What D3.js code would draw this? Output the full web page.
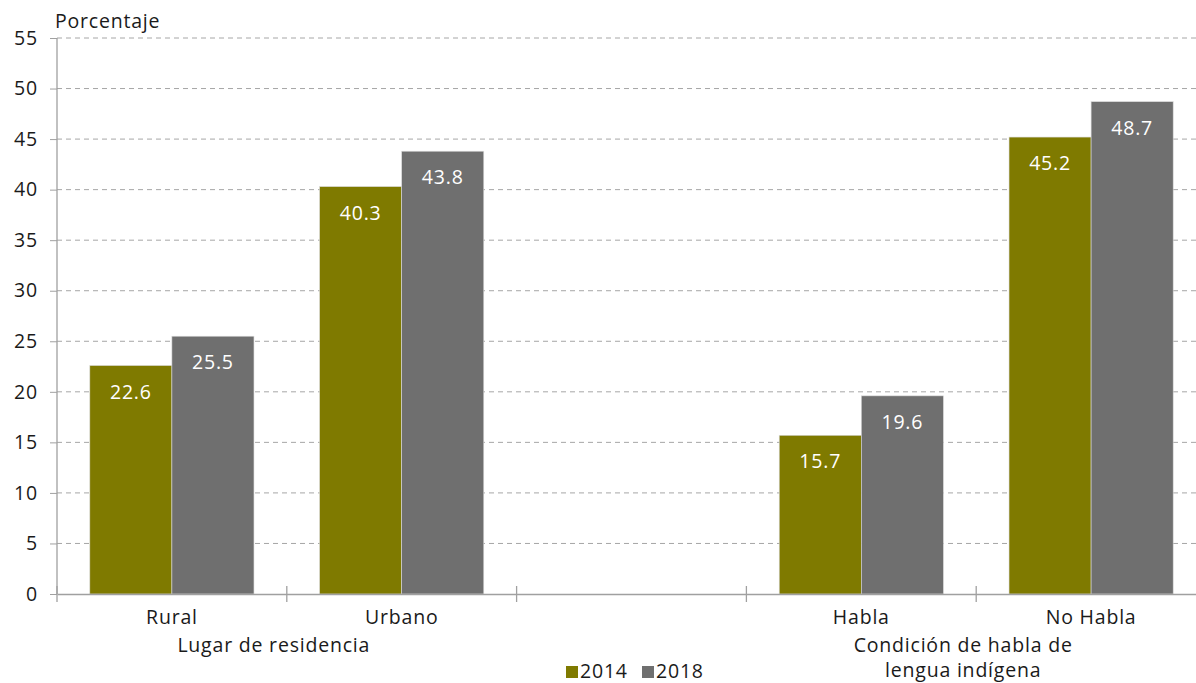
<!DOCTYPE html>
<html><head><meta charset="utf-8">
<script src="https://cdn.jsdelivr.net/npm/d3@7"></script>
<style>body{margin:0;background:#fff}svg{display:block}text{font-family:"Open Sans",sans-serif;letter-spacing:0.8px}</style>
</head><body>
<svg id="c" width="1196" height="683"></svg>
<script>
const categories = ["Rural","Urbano","","Habla","No Habla"];
const series = ["2014","2018"];
const values2014 = [22.6, 40.3, null, 15.7, 45.2];
const values2018 = [25.5, 43.8, null, 19.6, 48.7];
const yTicks = [0,5,10,15,20,25,30,35,40,45,50,55];
const groups = [
  {label:["Lugar de residencia"], from:0, to:1},
  {label:["Condición de habla de","lengua indígena"], from:3, to:4}
];
const colors = {"2014":"#7f7a00","2018":"#6f6f6f"};

(function(){
const svg = d3.select("#c");
const pL = 57, pR = 1206, pT = 38, pB = 594;
const fs = 19.5, fw = 400, tc = "#1a1a1a";
const x = d3.scaleBand().domain(categories.map((d,i)=>i)).range([pL,pR]).paddingInner(0).paddingOuter(0);
const xs = d3.scaleBand().domain(series).range([0,x.bandwidth()]).paddingInner(0).paddingOuter(0.4);
const y = d3.scaleLinear().domain([0,55]).range([pB,pT]);

// grid
svg.append("g").selectAll("line").data(yTicks.filter(d=>d>0)).join("line")
  .attr("x1",pL).attr("x2",pR).attr("y1",d=>y(d)).attr("y2",d=>y(d))
  .attr("stroke","#a6a6a6").attr("stroke-width",1).attr("stroke-dasharray","5,4");

// y axis
const yAxis = d3.axisLeft(y).tickValues(yTicks).tickSize(7).tickPadding(12);
const ga = svg.append("g").attr("transform",`translate(${pL},0)`).call(yAxis);
ga.select(".domain").attr("stroke","#a0a0a0").attr("stroke-width",1.3).attr("d",`M0,${pB}V${pT}`);
ga.selectAll(".tick line").attr("stroke","#a0a0a0");
ga.selectAll(".tick text").attr("font-size",fs).attr("fill",tc).attr("font-weight",fw);

// bars
const data = [];
categories.forEach((c,i)=>{
  if(values2014[i]!=null) data.push({i,s:"2014",v:values2014[i]});
  if(values2018[i]!=null) data.push({i,s:"2018",v:values2018[i]});
});
const bars = svg.append("g");
bars.selectAll("rect").data(data).join("rect")
  .attr("x",d=>x(d.i)+xs(d.s)).attr("width",xs.bandwidth())
  .attr("y",d=>y(d.v)).attr("height",d=>y(0)-y(d.v))
  .attr("fill",d=>colors[d.s]).attr("stroke","#d9d9d9").attr("stroke-width",0.6);
bars.selectAll("text").data(data).join("text")
  .attr("x",d=>x(d.i)+xs(d.s)+xs.bandwidth()/2).attr("y",d=>y(d.v)+33)
  .attr("text-anchor","middle").attr("fill","#fff").attr("font-size",fs).attr("font-weight",fw)
  .text(d=>d.v.toFixed(1));

// x axis
const xAxis = d3.axisBottom(x).tickSize(0).tickFormat(i=>categories[i]).tickPadding(16);
const gx = svg.append("g").attr("transform",`translate(0,${pB})`).call(xAxis);
gx.select(".domain").attr("stroke","#a0a0a0").attr("stroke-width",1.3);
gx.selectAll(".tick text").attr("font-size",fs).attr("fill",tc).attr("font-weight",fw);
const bounds = categories.map((d,i)=>x(i)).concat([pR]);
gx.append("g").selectAll("line").data(bounds).join("line")
  .attr("x1",d=>d).attr("x2",d=>d).attr("y1",-8).attr("y2",8)
  .attr("stroke","#a0a0a0").attr("stroke-width",1.3);

// group labels
groups.forEach(g=>{
  const cx = (x(g.from)+x(g.to)+x.bandwidth())/2 - 13;
  g.label.forEach((t,k)=>{
    svg.append("text").attr("x",cx).attr("y",652+k*25).attr("text-anchor","middle")
      .attr("font-size",fs).attr("fill",tc).attr("font-weight",fw).text(t);
  });
});

// y title
svg.append("text").attr("x",55).attr("y",28).attr("font-size",fs).attr("fill",tc).attr("font-weight",fw).text("Porcentaje");

// legend
const lg = svg.append("g");
const lx = [566, 642];
series.forEach((s,k)=>{
  lg.append("rect").attr("x",lx[k]).attr("y",666).attr("width",12).attr("height",12).attr("fill",colors[s]);
  lg.append("text").attr("x",lx[k]+14).attr("y",678).attr("font-size",fs).attr("fill",tc).attr("font-weight",fw).text(s);
});
})();
</script>
</body></html>
